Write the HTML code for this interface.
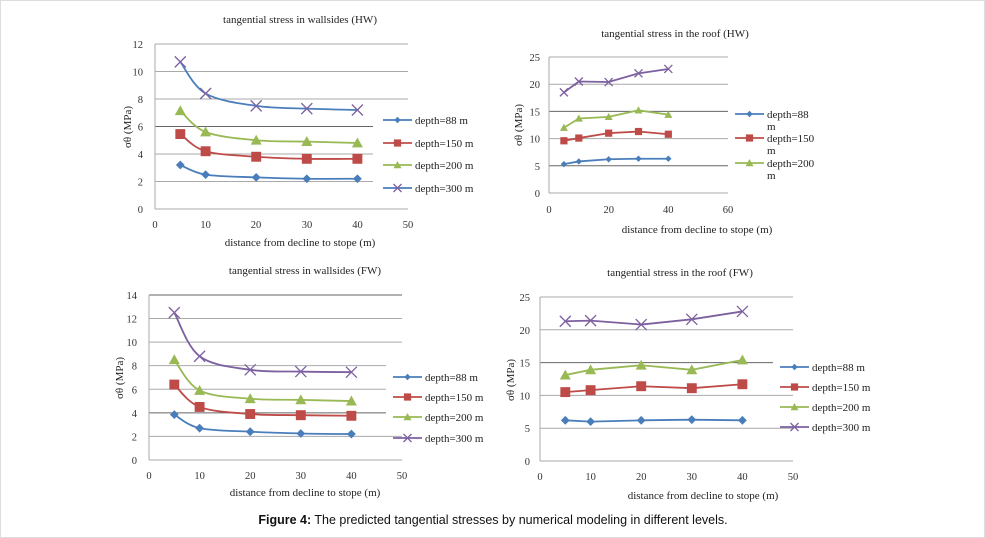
<!DOCTYPE html>
<html><head><meta charset="utf-8"><style>
html,body{margin:0;padding:0;background:#fff;}
svg{display:block;font-family:"Liberation Serif",serif;}
.t{font-size:11px;fill:#222;}
.tk{font-size:10.5px;fill:#333;}
</style></head><body>
<svg id="s" width="985" height="538" viewBox="0 0 985 538" xmlns="http://www.w3.org/2000/svg">
<rect x="0.5" y="0.5" width="984" height="537" fill="#fff" stroke="#ddd"/>
<g id="g"></g>
<!-- Chart 1 -->
<text class="t" x="300" y="23" text-anchor="middle">tangential stress in wallsides (HW)</text>
<g class="tk" text-anchor="end">
<text x="143" y="213">0</text><text x="143" y="185.5">2</text><text x="143" y="158">4</text><text x="143" y="130.5">6</text><text x="143" y="103">8</text><text x="143" y="75.5">10</text><text x="143" y="48">12</text></g>
<g class="tk" text-anchor="middle">
<text x="155" y="228">0</text><text x="205.6" y="228">10</text><text x="256" y="228">20</text><text x="307" y="228">30</text><text x="357.5" y="228">40</text><text x="408" y="228">50</text></g>
<text class="t" x="300" y="246" text-anchor="middle">distance from decline to stope (m)</text>
<text class="t" transform="translate(131,127) rotate(-90)" text-anchor="middle">σθ (MPa)</text>
<g class="t"><text x="415" y="124">depth=88 m</text><text x="415" y="147">depth=150 m</text><text x="415" y="169">depth=200 m</text><text x="415" y="192">depth=300 m</text></g>
<!-- Chart 2 -->
<text class="t" x="675" y="37" text-anchor="middle">tangential stress in the roof (HW)</text>
<g class="tk" text-anchor="end">
<text x="540" y="197">0</text><text x="540" y="170">5</text><text x="540" y="142.6">10</text><text x="540" y="115.4">15</text><text x="540" y="88.2">20</text><text x="540" y="61">25</text></g>
<g class="tk" text-anchor="middle">
<text x="549" y="213">0</text><text x="608.7" y="213">20</text><text x="668.3" y="213">40</text><text x="728" y="213">60</text></g>
<text class="t" x="697" y="233" text-anchor="middle">distance from decline to stope (m)</text>
<text class="t" transform="translate(522,125) rotate(-90)" text-anchor="middle">σθ (MPa)</text>
<g class="t"><text x="767" y="118">depth=88</text><text x="767" y="130">m</text><text x="767" y="142">depth=150</text><text x="767" y="154">m</text><text x="767" y="167">depth=200</text><text x="767" y="179">m</text></g>
<!-- Chart 3 -->
<text class="t" x="305" y="274" text-anchor="middle">tangential stress in wallsides (FW)</text>
<g class="tk" text-anchor="end">
<text x="137" y="464">0</text><text x="137" y="440.4">2</text><text x="137" y="416.8">4</text><text x="137" y="393.3">6</text><text x="137" y="369.7">8</text><text x="137" y="346.1">10</text><text x="137" y="322.5">12</text><text x="137" y="299">14</text></g>
<g class="tk" text-anchor="middle">
<text x="149" y="479">0</text><text x="199.6" y="479">10</text><text x="250.2" y="479">20</text><text x="300.8" y="479">30</text><text x="351.4" y="479">40</text><text x="402" y="479">50</text></g>
<text class="t" x="305" y="496" text-anchor="middle">distance from decline to stope (m)</text>
<text class="t" transform="translate(123,378) rotate(-90)" text-anchor="middle">σθ (MPa)</text>
<g class="t"><text x="425" y="381">depth=88 m</text><text x="425" y="401">depth=150 m</text><text x="425" y="421">depth=200 m</text><text x="425" y="442">depth=300 m</text></g>
<!-- Chart 4 -->
<text class="t" x="680" y="276" text-anchor="middle">tangential stress in the roof (FW)</text>
<g class="tk" text-anchor="end">
<text x="530" y="465">0</text><text x="530" y="432.2">5</text><text x="530" y="399.4">10</text><text x="530" y="366.6">15</text><text x="530" y="333.8">20</text><text x="530" y="301">25</text></g>
<g class="tk" text-anchor="middle">
<text x="540" y="480">0</text><text x="590.6" y="480">10</text><text x="641.2" y="480">20</text><text x="691.8" y="480">30</text><text x="742.4" y="480">40</text><text x="793" y="480">50</text></g>
<text class="t" x="703" y="499" text-anchor="middle">distance from decline to stope (m)</text>
<text class="t" transform="translate(514,380) rotate(-90)" text-anchor="middle">σθ (MPa)</text>
<g class="t"><text x="812" y="371">depth=88 m</text><text x="812" y="391">depth=150 m</text><text x="812" y="411">depth=200 m</text><text x="812" y="431">depth=300 m</text></g>
<text x="493" y="524" text-anchor="middle" style="font-family:'Liberation Sans',sans-serif;font-size:12.5px;fill:#111"><tspan font-weight="bold">Figure 4:</tspan> The predicted tangential stresses by numerical modeling in different levels.</text>
</svg>
<script>
var C={b:'#4a7ebb',r:'#be4b48',g:'#98b954',p:'#7d60a0'};
var g=document.getElementById('g'),h='';
var X=[5,10,20,30,40];
function sm(p){var d='M'+p[0][0]+','+p[0][1];for(var i=0;i<p.length-1;i++){var p0=p[i-1]||p[i],p1=p[i],p2=p[i+1],p3=p[i+2]||p2;var t=6;d+=' C'+(p1[0]+(p2[0]-p0[0])/t)+','+(p1[1]+(p2[1]-p0[1])/t)+' '+(p2[0]-(p3[0]-p1[0])/t)+','+(p2[1]-(p3[1]-p1[1])/t)+' '+p2[0]+','+p2[1];}return d;}
function mk(t,x,y,c,s){s=s||1;
 if(t=='d')return '<path d="M'+x+','+(y-4*s)+'L'+(x+4*s)+','+y+'L'+x+','+(y+4*s)+'L'+(x-4*s)+','+y+'Z" fill="'+c+'"/>';
 if(t=='s')return '<rect x="'+(x-4.5*s)+'" y="'+(y-4.5*s)+'" width="'+9*s+'" height="'+9*s+'" fill="'+c+'"/>';
 if(t=='t')return '<path d="M'+x+','+(y-5*s)+'L'+(x+5*s)+','+(y+4*s)+'L'+(x-5*s)+','+(y+4*s)+'Z" fill="'+c+'"/>';
 return '<path d="M'+(x-5*s)+','+(y-5*s)+'L'+(x+5*s)+','+(y+5*s)+'M'+(x+5*s)+','+(y-5*s)+'L'+(x-5*s)+','+(y+5*s)+'" stroke="'+c+'" stroke-width="1.3"/>';}
function chart(o){
 for(var i=0;i<o.ticks.length;i++){var v=o.ticks[i],y=o.y0-o.ys*v;var x2=(o.short&&o.short.indexOf(v)>=0)?o.xs2:o.x1;
  h+='<line x1="'+o.x0+'" x2="'+x2+'" y1="'+y+'" y2="'+y+'" stroke="'+(o.dark&&o.dark.indexOf(v)>=0?'#666':'#aaa')+'" stroke-width="1"/>';}
 h+='<line x1="'+o.x0+'" x2="'+o.x0+'" y1="'+(o.y0-o.ys*o.ticks[o.ticks.length-1])+'" y2="'+o.y0+'" stroke="#aaa"/>';
 var mks=['d','s','t','x'],lc=o.lc,mc=[C.b,C.r,C.g,C.p];
 for(var k=0;k<o.data.length;k++){var p=[];for(var i=0;i<5;i++)p.push([o.x0+o.xs*X[i],o.y0-o.ys*o.data[k][i]]);
  h+='<path d="'+(o.smooth?sm(p):'M'+p.join('L'))+'" fill="none" stroke="'+lc[k]+'" stroke-width="1.8"/>';
  for(var i=0;i<5;i++)h+=mk(mks[k],p[i][0],p[i][1],mc[k],o.ms);
  if(o.leg[k]!=null){var ly=o.leg[k];h+='<line x1="'+o.lx+'" x2="'+(o.lx+29)+'" y1="'+ly+'" y2="'+ly+'" stroke="'+lc[k]+'" stroke-width="1.8"/>'+mk(mks[k],o.lx+14.5,ly,mc[k],0.8);}}
}
chart({x0:155,x1:408,xs:5.06,y0:209,ys:13.75,ticks:[0,2,4,6,8,10,12],short:[2,4,6],xs2:373,dark:[6],smooth:1,ms:1.1,lc:[C.b,C.r,C.g,C.b],lx:383,leg:[120,143,165,188],
 data:[[3.2,2.5,2.3,2.2,2.2],[5.45,4.2,3.8,3.65,3.65],[7.15,5.6,5.0,4.9,4.8],[10.7,8.4,7.5,7.3,7.2]]});
chart({x0:549,x1:728,xs:2.983,y0:193,ys:5.44,ticks:[0,5,10,15,20,25],dark:[5,15],smooth:0,ms:0.8,lc:[C.b,C.r,C.g,C.p],lx:735,leg:[114,138,163,null],
 data:[[5.3,5.8,6.2,6.3,6.3],[9.6,10.1,11,11.3,10.8],[12,13.7,14,15.2,14.4],[18.5,20.5,20.4,22,22.8]]});
chart({x0:149,x1:402,xs:5.06,y0:460,ys:11.79,ticks:[0,2,4,6,8,10,12,14],short:[4,6,8],xs2:386,dark:[4,14],smooth:1,ms:1.1,lc:[C.b,C.r,C.g,C.p],lx:393,leg:[377,397,417,438],
 data:[[3.85,2.7,2.4,2.25,2.2],[6.4,4.5,3.9,3.8,3.75],[8.5,5.9,5.2,5.1,5.0],[12.5,8.8,7.65,7.5,7.45]]});
chart({x0:540,x1:793,xs:5.06,y0:461,ys:6.56,ticks:[0,5,10,15,20,25],short:[15],xs2:773,dark:[15],smooth:0,ms:1.1,lc:[C.b,C.r,C.g,C.p],lx:780,leg:[367,387,407,427],
 data:[[6.2,6.0,6.2,6.3,6.2],[10.5,10.8,11.4,11.1,11.7],[13.1,13.9,14.6,13.9,15.4],[21.3,21.4,20.8,21.6,22.8]]});
g.innerHTML=h;
</script>
</body></html>
